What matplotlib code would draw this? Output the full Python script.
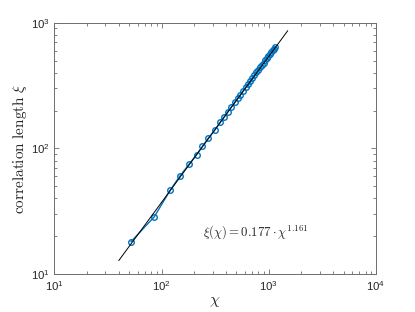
import matplotlib
matplotlib.use('Agg')
import matplotlib.pyplot as plt
import numpy as np

plt.rcParams['mathtext.fontset'] = 'cm'
plt.rcParams['font.family'] = ['Liberation Sans', 'DejaVu Sans']

# --- data ---
chi = [52, 85.5, 120, 148, 180, 212, 241, 274, 312, 352, 384, 416, 448, 480,
       512, 544, 576, 608, 640, 672, 704, 736, 768, 800, 832, 864, 896, 928,
       960, 992, 1024, 1056, 1088, 1120, 1152]
xi = [18.1, 28.5, 46.2, 60, 74.5, 89, 104, 121, 139, 161, 178, 196, 214, 232,
      250, 268, 287, 306, 325, 344, 363, 383, 402, 422, 441, 461, 481, 501,
      521, 541, 561, 581, 601, 620, 638]

fit_a = 0.177
fit_b = 1.161
fit_chi = [40, 1500]

C = dict(blue='#0072BD', axis='#6e6e6e', text='#262626')

fig = plt.figure(figsize=(4.15, 3.12), dpi=100)
ax = fig.add_axes([54.3 / 415, 1 - 274 / 312, (376 - 54.3) / 415, (274 - 22.7) / 312])

ax.plot(chi, xi, '-o', color=C['blue'], lw=1.0, ms=4, mfc='none', mew=1.0, zorder=3)
fx = np.array(fit_chi, dtype=float)
ax.plot(fx, fit_a * fx ** fit_b, color='black', lw=0.7, zorder=4)

ax.set_xscale('log')
ax.set_yscale('log')
ax.set_xlim(10, 1e4)
ax.set_ylim(10, 1e3)

ax.tick_params(which='both', direction='in', top=True, right=True,
               colors=C['axis'], labelcolor=C['text'], labelsize=8.2, width=0.6)
ax.tick_params(which='major', length=3.5)
ax.tick_params(which='minor', length=2)
for s in ax.spines.values():
    s.set_color(C['axis'])
    s.set_linewidth(0.7)

ax.set_xlabel(r'$\chi$', fontsize=11.5, color=C['text'], labelpad=1)
ax.set_ylabel(r'$\mathrm{correlation\ length}\ \xi$', fontsize=11, color=C['text'], labelpad=1)

ax.text(244, 21.6, r'$\xi(\chi) = 0.177 \cdot \chi^{1.161}$', fontsize=9.2,
        color=C['text'], va='center', ha='left')

plt.savefig('out.png', dpi=100)
